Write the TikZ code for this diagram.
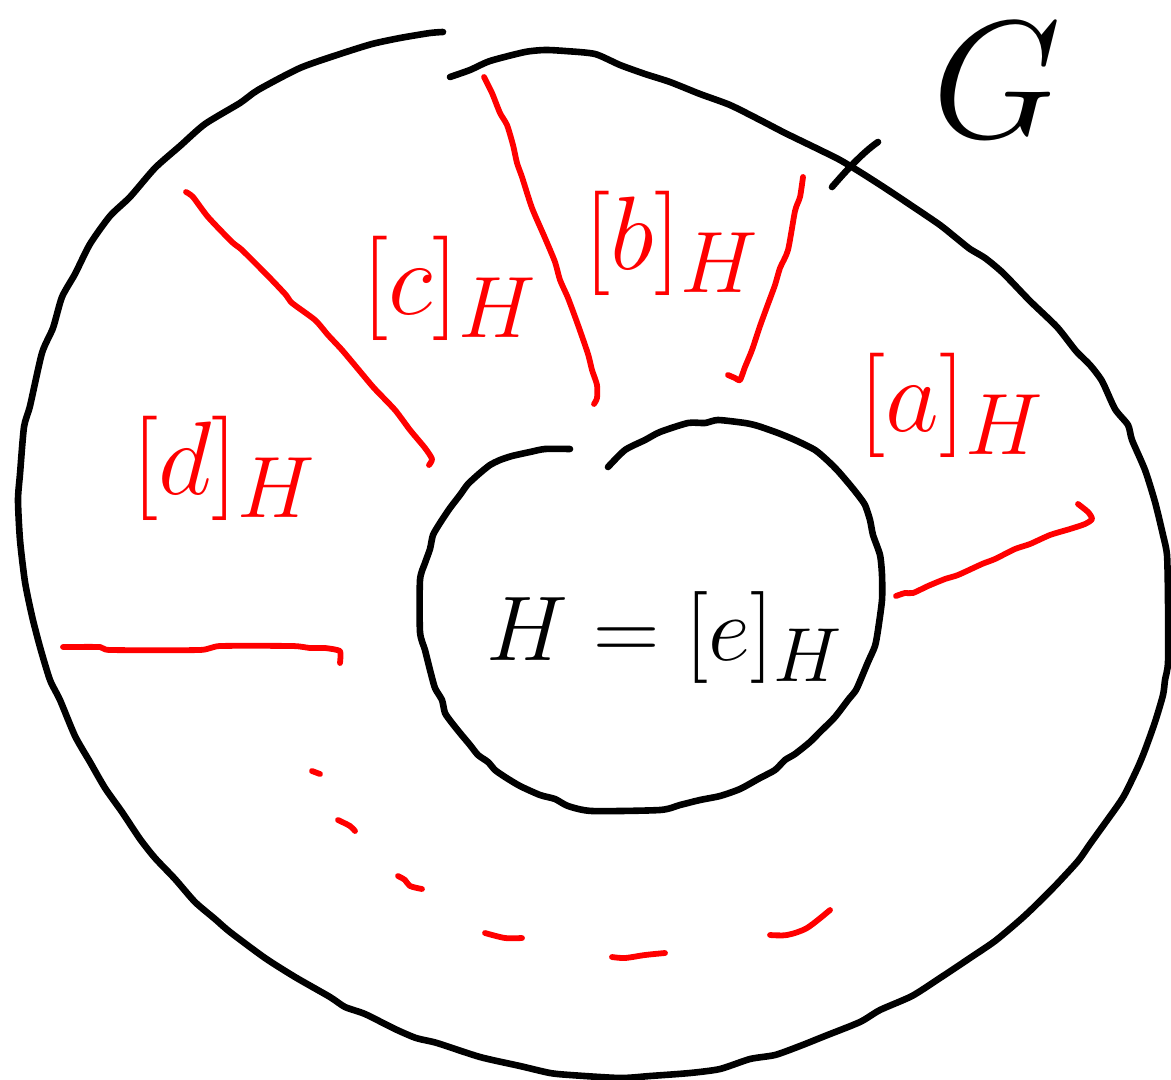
\documentclass[tikz,border=0pt]{standalone}
\usepackage{amsmath}
\begin{document}
\begin{tikzpicture}[x=0.5pt,y=-0.5pt,
  blk/.style={line width=3.3pt,line cap=round,line join=round,black},
  rd/.style={line width=2.9pt,line cap=round,line join=round,red},
  lab/.style={font=\Huge,scale=2.1,inner sep=0pt},
  redlab/.style={lab,text=red}]
\useasboundingbox[fill=white] (0,0) rectangle (1171,1080);
% outer region G
\draw[blk] plot[smooth,tension=0.4] coordinates {(443,32)(430,33)(400,38)(372,44)(340,54)(300,68)(258,90)(240,103)(205,124)(180,146)(155,168)(130,197)(110,216)(90,244)(75,274)(62,297)(53,328)(42,353)(30,406)(24,427)(20,474)(18,500)(20,540)(25,582)(32,616)(40,647)(50,680)(60,700)(75,736)(90,762)(105,788)(122,812)(140,839)(155,858)(175,879)(195,902)(215,919)(230,932)(265,958)(295,977)(330,997)(345,1007)(365,1014)(395,1029)(416,1038)(437,1043)(480,1057)(520,1066)(550,1073)(570,1075)(620,1078)(650,1076)(690,1073)(720,1069)(750,1059)(775,1055)(800,1046)(825,1036)(860,1022)(880,1010)(912,996)(940,978)(970,958)(995,941)(1020,920)(1035,906)(1055,886)(1078,861)(1090,844)(1118,805)(1126,792)(1138,767)(1145,750)(1155,722)(1163,695)(1165,680)(1168,662)(1168,600)(1167,555)(1163,535)(1155,502)(1145,470)(1132,440)(1128,425)(1115,409)(1102,381)(1090,365)(1076,351)(1057,327)(1030,301)(1003,273)(985,258)(970,249)(955,237)(940,225)(915,208)(885,188)(860,172)(840,160)(820,150)(785,133)(760,120)(730,105)(700,94)(670,82)(645,74)(620,65)(595,54)(565,51)(545,50)(525,52)(490,61)(470,70)(450,77)};
% label G and its pointer
\node[lab,scale=1.6] (G) at (997,80) {$G$};
\coordinate (gtip) at (878,142);
\coordinate (gtail) at (832,187);
\draw[blk] (gtail) .. controls (845,172) and (862,153) .. (gtip);
% inner circle H
\draw[blk] plot[smooth,tension=0.4] coordinates {(570,449)(545,449)(530,452)(512,456)(500,460)(490,465)(480,473)(468,484)(460,495)(450,508)(440,523)(433,535)(430,549)(425,563)(420,580)(420,632)(425,650)(430,670)(435,688)(442,700)(445,713)(452,723)(460,733)(470,745)(478,755)(488,762)(495,770)(505,777)(520,786)(540,795)(555,799)(568,806)(592,811)(660,810)(680,805)(700,800)(720,796)(740,789)(760,778)(775,770)(785,760)(795,754)(810,742)(820,732)(835,717)(848,700)(856,690)(863,674)(868,662)(875,646)(878,630)(882,600)(882,575)(880,555)(873,535)(870,520)(865,505)(858,495)(850,485)(838,471)(828,461)(815,450)(795,440)(778,433)(758,426)(745,423)(718,420)(705,423)(688,423)(660,432)(645,440)(625,450)(608,467)};
% red dividing lines
\draw[rd] plot[smooth,tension=0.4] coordinates {(484,77)(492,93)(500,113)(507,125)(513,145)(517,163)(522,177)(532,208)(545,238)(555,262)(560,280)(568,298)(578,325)(588,354)(592,370)(597,385)(597,398)(594,404)};
\draw[rd] plot[smooth,tension=0.4] coordinates {(186,192)(193,197)(208,217)(232,242)(242,250)(268,276)(286,295)(292,303)(315,320)(328,335)(342,350)(358,369)(374,388)(395,410)(410,430)(425,448)(432,459)(429,465)};
\draw[rd] plot[smooth,tension=0.4] coordinates {(803,177)(800,197)(795,211)(788,250)(780,268)(775,285)(768,304)(760,326)(752,350)(745,367)(740,380)(735,378)(728,375)};
\draw[rd] plot[smooth,tension=0.3] coordinates {(63,647)(100,647)(110,650)(200,650)(220,646)(293,646)(310,648)(325,648)(340,651)(340,663)};
\draw[rd] plot[smooth,tension=0.4] coordinates {(896,596)(905,593)(913,593)(928,586)(945,579)(958,575)(982,564)(995,559)(1015,549)(1030,544)(1050,535)(1070,529)(1085,524)(1092,519)(1088,512)(1078,504)};
% dashed continuation
\draw[rd] (312,771) -- (320,774);
\draw[rd] plot[smooth] coordinates {(338,820)(350,826)(355,831)};
\draw[rd] plot[smooth] coordinates {(398,876)(405,880)(410,886)(422,889)};
\draw[rd] plot[smooth] coordinates {(485,933)(505,938)(522,938)};
\draw[rd] plot[smooth] coordinates {(612,957)(625,958)(645,955)(665,953)};
\draw[rd] plot[smooth] coordinates {(770,935)(787,935)(807,928)(830,910)};
% labels
\node[redlab] (a) at (952,405) {$[a]_H$};
\node[redlab] (b) at (672,243) {$[b]_H$};
\node[redlab] (c) at (450,288) {$[c]_H$};
\node[redlab] (d) at (225,468) {$[d]_H$};
\node[lab,scale=0.88] (e) at (665,638) {$H=[e]_H$};
\end{tikzpicture}
\end{document}
